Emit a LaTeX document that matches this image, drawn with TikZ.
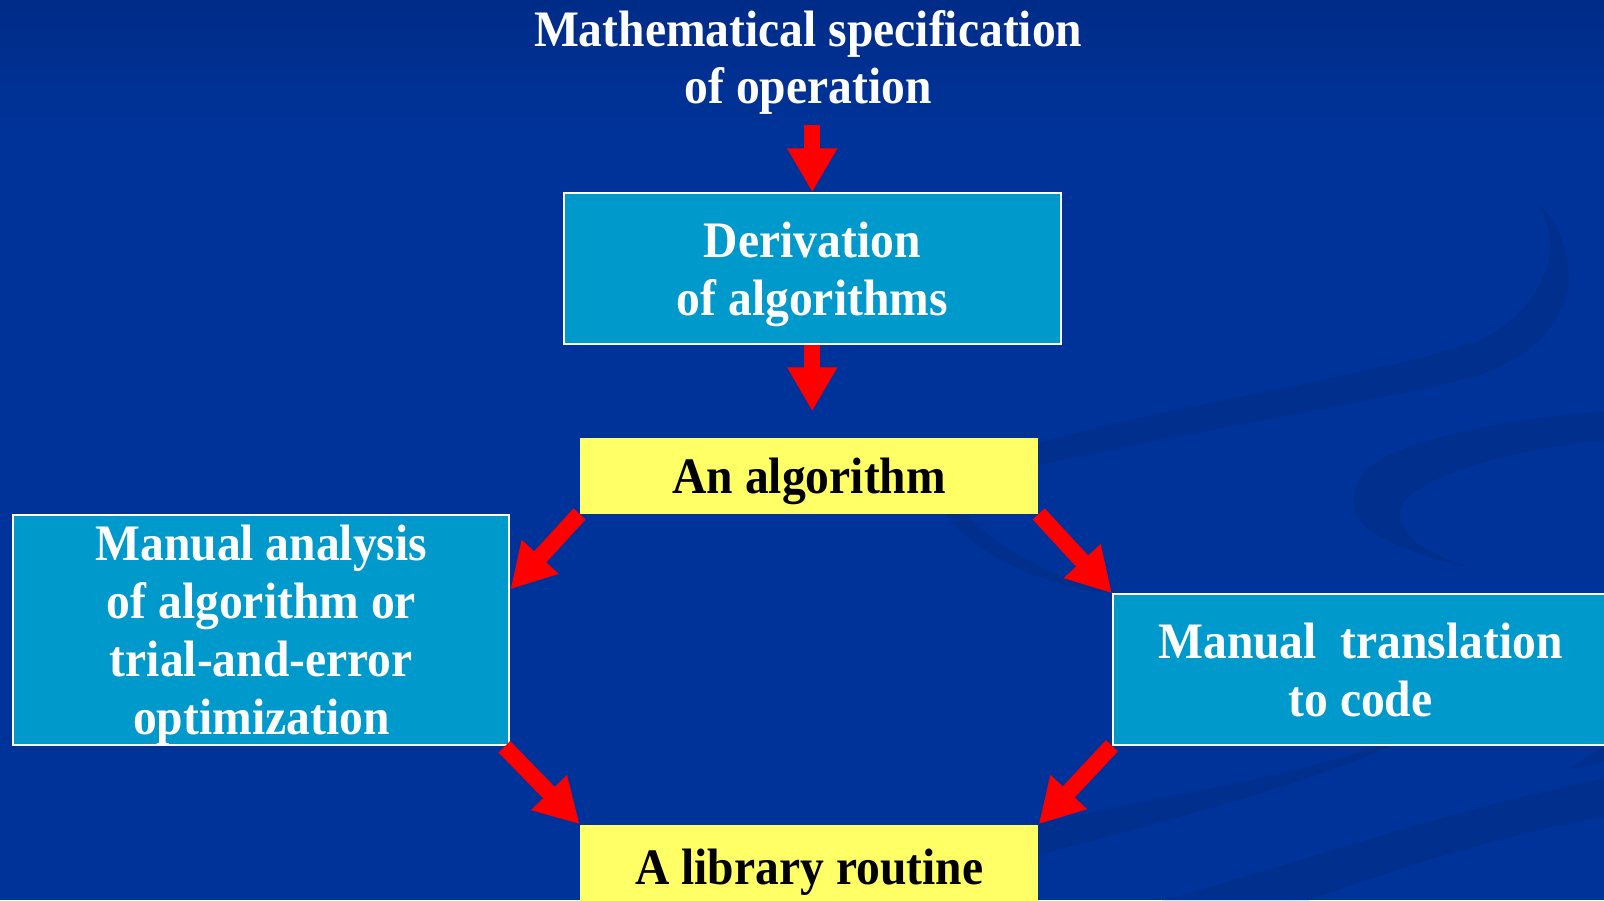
\documentclass[tikz,border=0pt]{standalone}
\usepackage{fontspec}
\setmainfont{Liberation Serif}[FakeStretch=0.93]
\usetikzlibrary{arrows.meta,calc}

\definecolor{slidebg}{HTML}{003399}
\definecolor{slidetop}{HTML}{002C88}
\definecolor{swirl}{HTML}{002F8E}
\definecolor{stepcyan}{HTML}{0099CC}
\definecolor{resultyellow}{HTML}{FFFF66}
\definecolor{flowred}{HTML}{FF0000}

\tikzset{
  slidetext/.style={font=\fontsize{25pt}{28.3pt}\selectfont\bfseries, align=center},
  stepbox/.style={slidetext, draw=white, line width=1pt, fill=stepcyan,
    text=white, inner sep=0pt, text depth=0pt},
  resultbox/.style={slidetext, fill=resultyellow, text=black, inner sep=0pt,
    text depth=0pt},
  blockarrow/.style={draw=flowred, line width=8pt,
    -{Triangle[width=23pt,length=21.5pt]}},
}

\begin{document}
\begin{tikzpicture}[x=0.5pt,y=-0.5pt]
  % canvas
  \useasboundingbox (0,0) rectangle (1568,880);
  \clip (0,0) rectangle (1568,880);
  \fill[slidebg] (0,0) rectangle (1568,880);
  \shade[top color=slidetop, bottom color=slidebg] (0,0) rectangle (1568,130);

  % background swirls
  \fill[swirl] (1015,433) .. controls (1150,395) and (1330,370) .. (1440,335)
    .. controls (1500,310) and (1535,250) .. (1503,199)
    .. controls (1525,215) and (1540,260) .. (1531,290)
    .. controls (1515,340) and (1470,365) .. (1400,378)
    .. controls (1300,400) and (1150,425) .. (1015,455) -- cycle;
  \fill[swirl] (930,485) .. controls (960,530) and (1030,565) .. (1087,580)
    .. controls (1020,575) and (950,540) .. (922,500) -- cycle;
  \fill[swirl] (1568,402) .. controls (1470,410) and (1370,430) .. (1339,456)
    .. controls (1315,478) and (1320,510) .. (1345,522)
    .. controls (1380,542) and (1420,552) .. (1448,557)
    .. controls (1400,545) and (1365,525) .. (1369,498)
    .. controls (1375,470) and (1470,440) .. (1568,430) -- cycle;
  \fill[swirl] (1015,805) .. controls (1130,780) and (1260,760) .. (1350,728)
    -- (1360,728) .. controls (1300,760) and (1150,800) .. (1015,836) -- cycle;
  \fill[swirl] (1136,880) .. controls (1250,850) and (1420,790) .. (1568,761)
    -- (1568,798) .. controls (1450,820) and (1350,855) .. (1279,880) -- cycle;
  \fill[swirl] (1531,753) .. controls (1545,745) and (1555,737) .. (1568,730)
    -- (1568,745) -- cycle;

  % title
  \node[slidetext, text=white, inner sep=0pt] (spec) at (790,61)
    {Mathematical specification\\of operation};
  \coordinate (specfoot) at (794,122);

  % steps
  \node[stepbox, minimum width=243pt, minimum height=73.5pt] (deriv) at (794,262.5)
    {Derivation\\of algorithms};
  \node[resultbox, minimum width=224pt, minimum height=37pt] (alg) at (791,465)
    {An algorithm};
  \coordinate (algtop) at (794,402);
  \node[stepbox, minimum width=242.5pt, minimum height=112.5pt] (analysis) at (255.5,615.5)
    {Manual analysis\\of algorithm or\\trial-and-error\\optimization};
  \node[stepbox, minimum width=242pt, minimum height=73.5pt] (trans) at (1330,654.5)
    {Manual\ \ translation\\to code};
  \node[resultbox, minimum width=224pt, minimum height=41pt] (lib) at (791,847)
    {A library routine};

  % flow
  \draw[blockarrow] (specfoot) -- (deriv.north);
  \draw[blockarrow] (deriv.south) -- (algtop);
  \draw[blockarrow] (alg.south west) -- ($(analysis.north east)+(0,74)$);
  \draw[blockarrow] (alg.south east) -- (trans.north west);
  \draw[blockarrow] ($(analysis.south east)+(-6,1)$) -- (lib.north west);
  \draw[blockarrow] (trans.south west) -- (lib.north east);
\end{tikzpicture}
\end{document}
